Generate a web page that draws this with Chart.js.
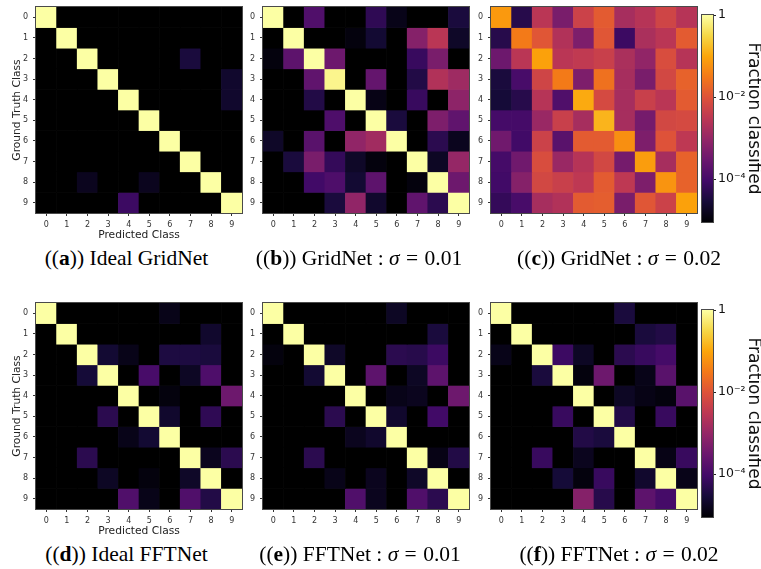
<!DOCTYPE html>
<html>
<head>
<meta charset="utf-8">
<script src="https://cdn.jsdelivr.net/npm/chart.js@4.4.1/dist/chart.umd.min.js"></script>
<style>
  html, body { margin: 0; padding: 0; background: #fff; }
  #fig { position: relative; width: 761px; height: 569px; overflow: hidden; background: #fff; }
  #fig canvas { position: absolute; }
  .cap {
    position: absolute;
    font-family: 'Liberation Serif', 'Times New Roman', serif;
    font-size: 21.5px;
    line-height: 21.5px;
    white-space: nowrap;
    color: #000;
    transform: translateX(-50%);
  }
  .cap .op { margin: 0 1px; }
</style>
</head>
<body>
<div id="fig"></div>
<script>
// ---- class labels (rows = ground truth, columns = predicted) ----
const CLASSES = ['0', '1', '2', '3', '4', '5', '6', '7', '8', '9'];

// ---- fraction classified, one matrix per network ----
const IDEAL_GRIDNET = [
  [1,      0,      0,      0,      0,      0,      0,      0,      0,      0],
  [0,      1,      0,      0,      0,      0,      0,      0,      0,      0],
  [0,      0,      0.9999, 0,      0,      0,      0,      3.2e-5, 0,      0],
  [0,      0,      0,      0.9999, 0,      0,      0,      0,      0,      2.2e-5],
  [0,      0,      0,      0,      0.9999, 0,      0,      0,      0,      2.2e-5],
  [0,      0,      0,      0,      0,      1,      0,      0,      0,      0],
  [0,      0,      0,      0,      0,      0,      1,      0,      0,      0],
  [0,      0,      0,      0,      0,      0,      0,      1,      0,      0],
  [0,      0,      1.6e-5, 0,      0,      1.6e-5, 0,      0,      0.9999, 0],
  [0,      0,      0,      0,      7.9e-5, 0,      0,      0,      0,      0.9999]
];

const GRIDNET_001 = [
  [0.999,  0,      1.4e-4, 0,      0,      5.6e-5, 1.4e-5, 0,      0,      3.2e-5],
  [0,      0.996,  0,      0,      1.1e-5, 2.5e-5, 0,      6.3e-4, 2.8e-3, 2.0e-5],
  [1.1e-5, 2.0e-4, 0.999,  3.2e-4, 0,      0,      0,      7.1e-5, 4.5e-4, 0],
  [0,      0,      2.2e-4, 0.75,   0,      2.5e-4, 0,      4.0e-5, 2.2e-3, 1.3e-3],
  [0,      0,      4.0e-5, 0,      0.999,  1.3e-5, 0,      7.1e-5, 0,      7.9e-4],
  [0,      0,      0,      1.3e-4, 0,      0.999,  3.2e-5, 0,      5.0e-4, 2.2e-4],
  [2.0e-5, 0,      1.8e-4, 0,      8.9e-4, 1.4e-3, 0.997,  0,      5.0e-5, 1.6e-5],
  [0,      3.2e-5, 4.5e-4, 6.3e-5, 2.0e-5, 1.1e-5, 0,      0.998,  1.8e-5, 1.0e-3],
  [0,      0,      8.9e-5, 1.3e-4, 2.5e-5, 2.0e-4, 0,      1.1e-5, 0.999,  3.2e-4],
  [0,      0,      0,      3.2e-5, 8.9e-4, 2.2e-5, 0,      2.2e-4, 5.0e-5, 0.998]
];

const GRIDNET_002 = [
  [7.1e-2, 4.5e-5, 2.8e-3, 4.5e-4, 5.0e-3, 1.3e-2, 1.6e-3, 2.5e-3, 5.6e-3, 2.5e-3],
  [4.5e-5, 3.2e-2, 1.1e-2, 2.2e-3, 5.0e-4, 1.1e-2, 7.9e-5, 1.8e-3, 2.8e-3, 1.3e-2],
  [3.2e-4, 2.8e-3, 8.9e-2, 2.8e-3, 3.5e-3, 4.5e-3, 1.8e-3, 8.9e-4, 7.9e-3, 2.5e-3],
  [3.2e-5, 1.1e-4, 5.6e-3, 3.2e-2, 5.0e-4, 2.5e-2, 1.6e-3, 4.5e-4, 6.3e-3, 1.6e-2],
  [2.8e-5, 4.5e-5, 2.5e-3, 1.4e-4, 1.1e-1, 7.1e-3, 1.6e-3, 4.5e-3, 2.8e-3, 1.3e-2],
  [1.0e-4, 1.0e-4, 1.1e-3, 4.5e-3, 1.6e-3, 1.4e-1, 1.6e-3, 4.0e-4, 6.3e-3, 7.1e-3],
  [3.5e-4, 8.9e-5, 5.0e-3, 1.8e-4, 1.3e-2, 1.3e-2, 5.6e-2, 5.0e-4, 1.0e-2, 3.2e-3],
  [1.0e-4, 3.5e-4, 7.9e-3, 1.1e-3, 2.5e-3, 6.3e-3, 4.0e-4, 7.9e-2, 1.6e-3, 1.6e-2],
  [8.9e-5, 6.3e-4, 6.3e-3, 4.5e-3, 3.2e-3, 1.3e-2, 3.2e-3, 5.0e-4, 6.3e-2, 1.6e-2],
  [6.3e-5, 1.1e-4, 1.6e-3, 2.2e-3, 1.3e-2, 1.4e-2, 4.5e-4, 1.1e-2, 5.0e-3, 8.9e-2]
];

const IDEAL_FFTNET = [
  [0.9999, 0,      0,      0,      0,      0,      1.4e-5, 0,      0,      0],
  [0,      0.9999, 0,      0,      0,      0,      0,      0,      2.2e-5, 0],
  [0,      0,      0.9998, 2.5e-5, 1.4e-5, 0,      3.5e-5, 3.5e-5, 3.2e-5, 0],
  [0,      0,      2.8e-5, 0.9997, 0,      1.1e-4, 0,      1.8e-5, 1.3e-4, 0],
  [0,      0,      0,      0,      0.9996, 0,      1.1e-5, 0,      0,      3.2e-4],
  [0,      0,      0,      5.0e-5, 0,      0.9998, 2.2e-5, 0,      5.6e-5, 0],
  [0,      0,      0,      0,      1.4e-5, 2.5e-5, 0.9999, 0,      0,      0],
  [0,      0,      5.0e-5, 0,      0,      0,      0,      0.9998, 1.6e-5, 5.0e-5],
  [0,      0,      0,      1.8e-5, 0,      1.1e-5, 0,      2.0e-5, 0.9999, 0],
  [0,      0,      0,      0,      1.4e-4, 1.4e-5, 0,      1.4e-4, 4.0e-5, 0.9996]
];

const FFTNET_001 = [
  [0.9999, 0,      0,      0,      0,      0,      1.8e-5, 0,      0,      0],
  [0,      0.9999, 0,      0,      0,      0,      0,      0,      3.2e-5, 0],
  [1.1e-5, 0,      0.9998, 2.0e-5, 0,      0,      5.0e-5, 4.5e-5, 7.9e-5, 0],
  [0,      0,      2.5e-5, 0.9995, 0,      2.0e-4, 0,      1.8e-5, 2.0e-4, 0],
  [0,      0,      0,      0,      0.9996, 0,      1.4e-5, 1.6e-5, 0,      3.2e-4],
  [0,      0,      0,      5.0e-5, 0,      0.9998, 2.2e-5, 0,      8.9e-5, 0],
  [0,      0,      0,      0,      1.6e-5, 2.2e-5, 0.9999, 0,      0,      0],
  [0,      0,      5.0e-5, 0,      0,      0,      0,      0.9999, 1.3e-5, 4.0e-5],
  [0,      0,      0,      1.4e-5, 0,      1.6e-5, 0,      2.0e-5, 0.9999, 0],
  [0,      0,      0,      0,      1.4e-4, 1.6e-5, 0,      1.4e-4, 5.0e-5, 0.9996]
];

const FFTNET_002 = [
  [0.9999, 0,      0,      0,      0,      0,      3.2e-5, 0,      0,      0],
  [0,      0.9999, 0,      0,      0,      0,      0,      3.2e-5, 4.0e-5, 0],
  [1.4e-5, 0,      0.9997, 7.9e-5, 1.8e-5, 0,      5.0e-5, 7.1e-5, 1.0e-4, 0],
  [0,      0,      3.2e-5, 0.9995, 1.1e-5, 3.2e-4, 0,      1.4e-5, 1.8e-4, 0],
  [0,      0,      0,      0,      0.9998, 0,      1.8e-5, 1.3e-5, 1.1e-5, 1.8e-4],
  [0,      0,      0,      7.1e-5, 0,      0.9998, 4.0e-5, 0,      7.1e-5, 0],
  [0,      0,      0,      0,      4.0e-5, 3.2e-5, 0.9999, 0,      0,      0],
  [0,      0,      7.1e-5, 0,      1.6e-5, 0,      0,      0.9998, 1.3e-5, 7.1e-5],
  [0,      0,      0,      2.8e-5, 1.1e-5, 7.1e-5, 0,      2.2e-5, 0.9998, 1.4e-5],
  [0,      0,      0,      0,      6.3e-4, 4.5e-5, 0,      2.0e-4, 1.0e-4, 0.9990]
];

// ---- colour bar range and ticks (log scale) ----
const CBAR_MIN = 9e-6;
const CBAR_MAX = 1;
const CBAR_TICKS = [1e-4, 1e-2, 1];
const CBAR_TICK_LABELS = ['10\u207B\u2074', '10\u207B\u00B2', '1'];

// ---- inferno colour map, sampled every 0.1 ----
const INFERNO = ['#000004', '#160b39', '#420a68', '#6a176e', '#932667', '#bc3754',
                 '#dd513a', '#f37819', '#fca50a', '#f6d746', '#fcffa4'];

function hexToRgb(h) {
  const n = parseInt(h.slice(1), 16);
  return [(n >> 16) & 255, (n >> 8) & 255, n & 255];
}
const INFERNO_RGB = INFERNO.map(hexToRgb);

function inferno(t) {
  t = Math.min(1, Math.max(0, t));
  const p = t * (INFERNO_RGB.length - 1);
  const i = Math.min(INFERNO_RGB.length - 2, Math.floor(p));
  const f = p - i;
  const a = INFERNO_RGB[i], b = INFERNO_RGB[i + 1];
  const c = a.map((v, k) => Math.round(v + (b[k] - v) * f));
  return `rgb(${c[0]},${c[1]},${c[2]})`;
}

const LOG_MIN = Math.log10(CBAR_MIN);
const LOG_MAX = Math.log10(CBAR_MAX);
function cellColor(v) {
  if (!(v > 0)) return '#000000';
  return inferno((Math.log10(v) - LOG_MIN) / (LOG_MAX - LOG_MIN));
}

// ---- layout ----
const PLOT = 206;
const AXIS_W = 36;
const AXIS_H = 32;
const PAD_T = 10;
const PAD_R = 8;
const TEXT = '#222';
const TICK_FONT = { family: 'DejaVu Sans', size: 8 };
const LABEL_FONT = { family: 'DejaVu Sans', size: 10.7 };

Chart.defaults.font.family = 'DejaVu Sans';

const fig = document.getElementById('fig');

function addCanvas(left, top, w, h) {
  const c = document.createElement('canvas');
  c.width = w; c.height = h;
  c.style.left = left + 'px'; c.style.top = top + 'px';
  c.style.width = w + 'px'; c.style.height = h + 'px';
  fig.appendChild(c);
  return c;
}

// thin frame around the plotting area
const framePlugin = {
  id: 'frame',
  afterDatasetsDraw(chart) {
    const { ctx, chartArea: a } = chart;
    ctx.save();
    ctx.strokeStyle = '#4a4a4a';
    ctx.lineWidth = 1;
    ctx.strokeRect(Math.round(a.left) - 0.5, Math.round(a.top) - 0.5,
                   Math.round(a.right - a.left) + 1, Math.round(a.bottom - a.top) + 1);
    ctx.restore();
  }
};

function heatmap(matrix, plotLeft, plotTop, showXTitle, showYTitle) {
  const canvas = addCanvas(plotLeft - AXIS_W, plotTop - PAD_T,
                           AXIS_W + PLOT + PAD_R, PAD_T + PLOT + AXIS_H);
  // one floating-bar dataset per ground-truth row; each bar covers one cell
  const datasets = matrix.map((row, r) => ({
    data: row.map(() => [r - 0.5, r + 0.5]),
    backgroundColor: row.map(cellColor),
    borderWidth: 0,
    grouped: false,
    barPercentage: 1,
    categoryPercentage: 1
  }));
  return new Chart(canvas, {
    type: 'bar',
    data: { labels: CLASSES, datasets },
    options: {
      responsive: false,
      animation: false,
      devicePixelRatio: 1,
      events: [],
      layout: { padding: { top: PAD_T, right: PAD_R, left: 0, bottom: 0 } },
      plugins: { legend: { display: false }, tooltip: { enabled: false } },
      scales: {
        x: {
          type: 'category',
          offset: true,
          grid: { display: true, drawOnChartArea: false, drawTicks: true, tickLength: 3,
                  color: '#333', offset: false },
          border: { display: false },
          ticks: { font: TICK_FONT, color: '#333', padding: 4, autoSkip: false, maxRotation: 0 },
          title: { display: showXTitle, text: 'Predicted Class', font: LABEL_FONT, color: TEXT,
                   padding: { top: 0, bottom: 3 } },
          afterFit(s) { s.height = AXIS_H; }
        },
        y: {
          type: 'linear',
          reverse: true,
          min: -0.5,
          max: 9.5,
          bounds: 'data',
          afterBuildTicks(s) { s.ticks = CLASSES.map((_, i) => ({ value: i })); },
          grid: { display: true, drawOnChartArea: false, drawTicks: true, tickLength: 3, color: '#333' },
          border: { display: false },
          ticks: { font: TICK_FONT, color: '#333', padding: 5, autoSkip: false,
                   callback: (v) => CLASSES[Math.round(v)] },
          title: { display: showYTitle, text: 'Ground Truth Class', font: LABEL_FONT, color: TEXT,
                   padding: { top: 11, bottom: 0 } },
          afterFit(s) { s.width = AXIS_W; }
        }
      }
    },
    plugins: [framePlugin]
  });
}

function colorbar(barLeft, barTop, barWidth, barHeight) {
  const padL = 2, padV = 10, axisW = 51;
  const canvas = addCanvas(barLeft - padL, barTop - padV,
                           padL + barWidth + axisW, padV * 2 + barHeight);
  return new Chart(canvas, {
    type: 'bar',
    data: {
      labels: [''],
      datasets: [{
        data: [[CBAR_MIN, CBAR_MAX]],
        backgroundColor: (c) => {
          const { ctx, chartArea } = c.chart;
          if (!chartArea) return '#000';
          const g = ctx.createLinearGradient(0, chartArea.bottom, 0, chartArea.top);
          INFERNO.forEach((col, i) => g.addColorStop(i / (INFERNO.length - 1), col));
          return g;
        },
        borderWidth: 0,
        barPercentage: 1,
        categoryPercentage: 1
      }]
    },
    options: {
      responsive: false,
      animation: false,
      devicePixelRatio: 1,
      events: [],
      layout: { padding: { top: padV, bottom: padV, left: padL, right: 0 } },
      plugins: { legend: { display: false }, tooltip: { enabled: false } },
      scales: {
        x: { display: false },
        y: {
          type: 'logarithmic',
          position: 'right',
          min: CBAR_MIN,
          max: CBAR_MAX,
          bounds: 'data',
          afterBuildTicks(s) { s.ticks = CBAR_TICKS.map((v) => ({ value: v })); },
          grid: { display: true, drawOnChartArea: false, drawTicks: true, tickLength: 3, color: '#222' },
          border: { display: false },
          ticks: { font: { family: 'DejaVu Sans', size: 12.5 }, color: '#111', padding: 2,
                   autoSkip: false, callback: (v, i) => CBAR_TICK_LABELS[i] },
          title: { display: true, text: 'Fraction classified',
                   font: { family: 'DejaVu Sans', size: 17 }, color: '#111',
                   padding: { top: 0, bottom: 0 } },
          afterFit(s) { s.width = axisW; }
        }
      }
    },
    plugins: [framePlugin]
  });
}

heatmap(IDEAL_GRIDNET, 36, 7, true, true);
heatmap(GRIDNET_001, 263, 7, false, false);
heatmap(GRIDNET_002, 491, 7, false, false);
heatmap(IDEAL_FFTNET, 36, 303, true, true);
heatmap(FFTNET_001, 263, 303, false, false);
heatmap(FFTNET_002, 491, 303, false, false);

colorbar(702, 15, 11, 207);
colorbar(702, 310, 11, 207);

// sub-figure captions
const CAPTIONS = [
  ['a', 'Ideal GridNet', '', 126.5, 248],
  ['b', 'GridNet : ', '0.01', 359, 248],
  ['c', 'GridNet : ', '0.02', 619, 248],
  ['d', 'Ideal FFTNet', '', 126.5, 544],
  ['e', 'FFTNet : ', '0.01', 360, 544],
  ['f', 'FFTNet : ', '0.02', 619, 544]
];
CAPTIONS.forEach(([letter, name, sigma, cx, top]) => {
  const d = document.createElement('div');
  d.className = 'cap';
  d.style.left = cx + 'px';
  d.style.top = top + 'px';
  d.innerHTML = '((<b>' + letter + '</b>)) ' + name +
    (sigma ? '<i>\u03C3</i> <span class="op">=</span> ' + sigma : '');
  fig.appendChild(d);
});
</script>
</body>
</html>
